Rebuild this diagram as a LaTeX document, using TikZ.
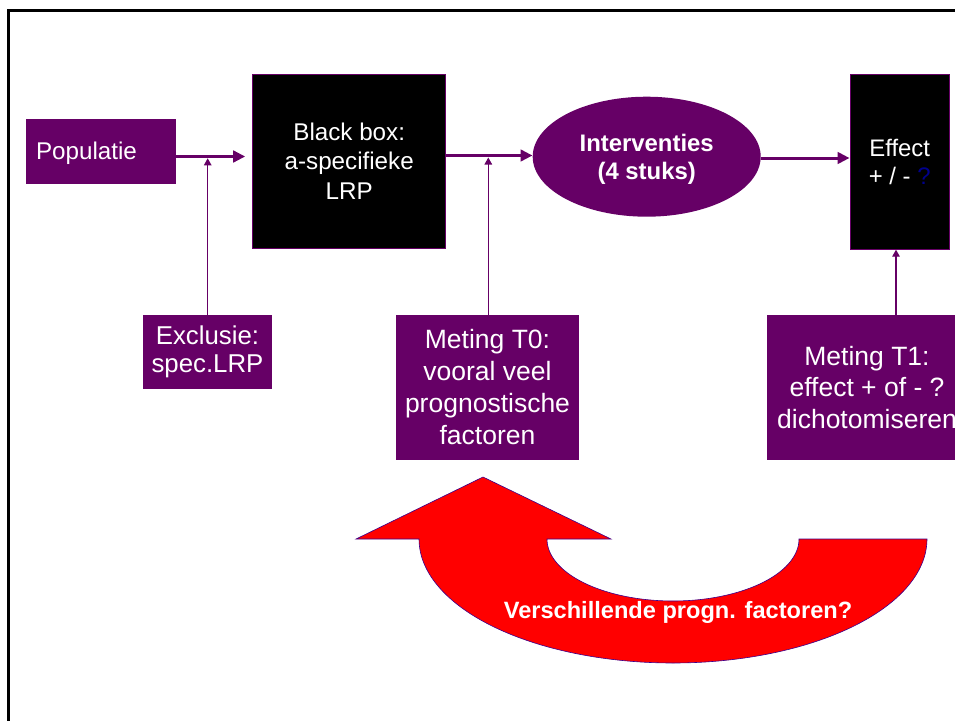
\documentclass[tikz,border=0pt]{standalone}
\usepackage{fontspec}
\setmainfont{Liberation Sans}
\usetikzlibrary{arrows.meta,shapes.geometric}
\definecolor{pp}{RGB}{102,0,102}
\definecolor{navyq}{RGB}{0,0,140}
\definecolor{redfill}{RGB}{255,0,0}
\definecolor{redline}{RGB}{60,0,140}
\begin{document}
\begin{tikzpicture}[x=1pt,y=-1pt,
  purplebox/.style={fill=pp, draw=none, text=white, inner sep=0pt, align=center},
  blackbox/.style={fill=black, draw=pp, line width=1pt, text=white, inner sep=0pt, align=center},
  thickarrow/.style={draw=pp, line width=3pt, -{Triangle[length=12pt,width=11.5pt]}},
  thinarrow/.style={draw=pp, line width=1.1pt, -{Triangle[length=7pt,width=7.5pt]}},
  fsmain/.style={font=\fontsize{24.2}{29.2}\selectfont},
  fsexcl/.style={font=\fontsize{25.8}{28.3}\selectfont},
  fsmeting/.style={font=\fontsize{26.5}{32}\selectfont},
]
\useasboundingbox (0,0) rectangle (955,720);
\clip (0,0) rectangle (955,720);
% frame
\draw[line width=2.5pt] (8.5,10.5) rectangle (980,740);

% nodes
\node[purplebox, fsmain, minimum width=150.3pt, minimum height=64.7pt, text width=129.7pt, inner xsep=10.3pt, align=left, text height=17pt, text depth=-3.7pt] (pop) at (100.85,151.35) {Populatie};
\node[blackbox, fsmain, minimum width=193pt, minimum height=174.3pt] (bb) at (349.2,161.2) {Black box:\\a-specifieke\\LRP};
\node[ellipse, fill=pp, text=white, inner sep=0pt, align=center, font=\fontsize{23.9}{28.7}\selectfont\bfseries, text depth=0pt, minimum width=228pt, minimum height=120pt] (iv) at (646.7,156.7) {Interventies\\(4 stuks)};
\node[blackbox, font=\fontsize{23.9}{27.3}\selectfont, text depth=0pt, minimum width=99.3pt, minimum height=174.3pt] (eff) at (899.7,162) {Effect\\+ / - {\color{navyq}?}};
\node[purplebox, fsexcl, minimum width=129.6pt, minimum height=74pt] (excl) at (207.5,352) {Exclusie:\\spec.LRP};
\node[purplebox, fsmeting, minimum width=183pt, minimum height=145pt] (t0) at (487.5,387.5) {Meting T0:\\vooral veel\\prognostische\\factoren};
\node[purplebox, fsmeting, font=\fontsize{26.5}{31.5}\selectfont, minimum width=200pt, minimum height=145pt] (t1) at (867,387.5) {Meting T1:\\effect + of - ?\\dichotomiseren};

% junction points on thick lines
\coordinate (j1) at (207.7,158.3);
\coordinate (j2) at (488.3,157.5);

% connectors
\draw[thickarrow, shorten >=7pt] ([yshift=-5.15pt]pop.east) -- ([yshift=4.7pt]bb.west);
\draw[thickarrow] ([yshift=5.7pt]bb.east) -- ([yshift=1.2pt]iv.west);
\draw[thickarrow] ([yshift=-1.3pt]iv.east) -- ([yshift=4pt]eff.west);
\draw[thinarrow] (excl.north -| j1) -- (j1);
\draw[thinarrow] (t0.north -| j2) -- (j2);
\draw[thinarrow] ([xshift=29pt]t1.north) -- ([xshift=29pt]t1.north |- eff.south);

% red curved arrow
\draw[fill=redfill, draw=redline, line width=0.6pt, line join=miter]
  (483,477) -- (611,539) -- (547,539)
  -- plot[domain=0:180, samples=90, smooth] ({673-126*cos(\x)},{539+62*sin(\x)})
  -- (927,539)
  -- plot[domain=0:180, samples=90, smooth] ({673+254*cos(\x)},{539+124*sin(\x)})
  -- (356,539) -- cycle;
\node[text=white, font=\fontsize{23.6}{28}\selectfont\bfseries, inner sep=0pt, text depth=0pt] (rt) at (678,610) {Verschillende progn. factoren?};
\end{tikzpicture}
\end{document}
